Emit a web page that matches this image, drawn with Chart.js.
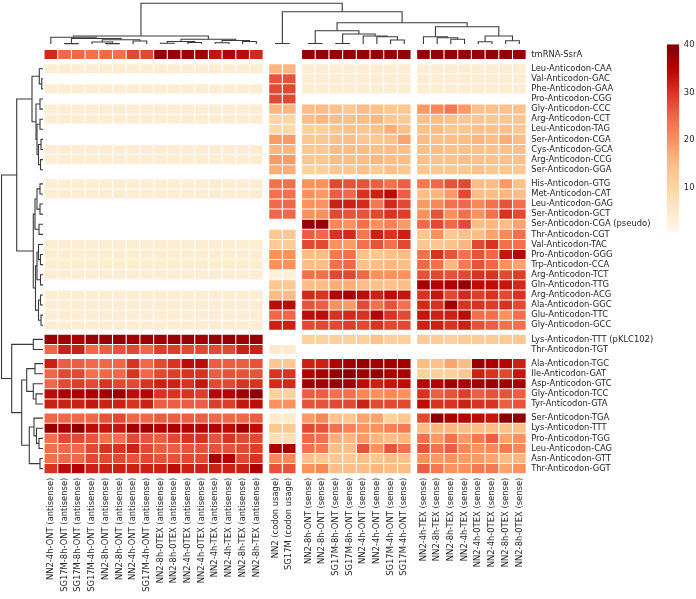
<!DOCTYPE html>
<html>
<head>
<meta charset="utf-8">
<script src="https://cdn.jsdelivr.net/npm/chart.js@4.4.1/dist/chart.umd.min.js"></script>
<style>
  body { margin: 0; background: #fff; }
  #wrap { position: relative; width: 696px; height: 599px; }
  #wrap canvas { position: absolute; left: 0; top: 0; }
</style>
</head>
<body>
<div id="wrap">
  <canvas id="heat" width="696" height="599"></canvas>
  <canvas id="row-tree" width="696" height="599"></canvas>
  <canvas id="col-tree" width="696" height="599"></canvas>
  <canvas id="cbar" width="696" height="599"></canvas>
</div>
<script>
const COLS = [
  "NN2-4h-ONT (antisense)", "SG17M-8h-ONT (antisense)", "SG17M-8h-ONT (antisense)", "SG17M-4h-ONT (antisense)",
  "NN2-8h-ONT (antisense)", "NN2-8h-ONT (antisense)", "NN2-4h-ONT (antisense)", "SG17M-4h-ONT (antisense)",
  "NN2-8h-0TEX (antisense)", "NN2-8h-0TEX (antisense)", "NN2-4h-0TEX (antisense)", "NN2-4h-0TEX (antisense)",
  "NN2-4h-TEX (antisense)", "NN2-4h-TEX (antisense)", "NN2-8h-TEX (antisense)", "NN2-8h-TEX (antisense)",
  "NN2 (codon usage)", "SG17M (codon usage)",
  "NN2-8h-ONT (sense)", "NN2-8h-ONT (sense)", "SG17M-8h-ONT (sense)", "SG17M-8h-ONT (sense)",
  "NN2-4h-ONT (sense)", "NN2-4h-ONT (sense)", "SG17M-4h-ONT (sense)", "SG17M-4h-ONT (sense)",
  "NN2-4h-TEX (sense)", "NN2-8h-TEX (sense)", "NN2-8h-TEX (sense)", "NN2-4h-TEX (sense)",
  "NN2-4h-0TEX (sense)", "NN2-4h-0TEX (sense)", "NN2-8h-0TEX (sense)", "NN2-8h-0TEX (sense)"
];
const COL_GROUPS = [16, 2, 8, 8];

const ROWS = [
  "tmRNA-SsrA",
  "Leu-Anticodon-CAA", "Val-Anticodon-GAC", "Phe-Anticodon-GAA", "Pro-Anticodon-CGG", "Gly-Anticodon-CCC",
  "Arg-Anticodon-CCT", "Leu-Anticodon-TAG", "Ser-Anticodon-CGA", "Cys-Anticodon-GCA", "Arg-Anticodon-CCG",
  "Ser-Anticodon-GGA",
  "His-Anticodon-GTG", "Met-Anticodon-CAT", "Leu-Anticodon-GAG", "Ser-Anticodon-GCT",
  "Ser-Anticodon-CGA (pseudo)", "Thr-Anticodon-CGT", "Val-Anticodon-TAC", "Pro-Anticodon-GGG",
  "Trp-Anticodon-CCA", "Arg-Anticodon-TCT", "Gln-Anticodon-TTG", "Arg-Anticodon-ACG", "Ala-Anticodon-GGC",
  "Glu-Anticodon-TTC", "Gly-Anticodon-GCC",
  "Lys-Anticodon-TTT (pKLC102)", "Thr-Anticodon-TGT",
  "Ala-Anticodon-TGC", "Ile-Anticodon-GAT", "Asp-Anticodon-GTC", "Gly-Anticodon-TCC", "Tyr-Anticodon-GTA",
  "Ser-Anticodon-TGA", "Lys-Anticodon-TTT", "Pro-Anticodon-TGG", "Leu-Anticodon-CAG", "Asn-Anticodon-GTT",
  "Thr-Anticodon-GGT"
];
const ROW_GROUPS = [1, 11, 15, 2, 5, 6];

const _ = null;
// one row per tRNA: 16 antisense | 2 codon usage | 8 ONT sense | 8 TEX sense
const VALUES = [
  [31,25,25,24,25,24,28,28,38,38,37,37,33,35,34,31, _,_, 38,38,38,38,38,38,38,38, 38,38,38,38,38,38,38,38],
  [4,4,4,4,4,4,4,4,4,4,4,4,4,4,4,4, 16,16, 4,4,4,4,4,4,4,4, 4,4,4,4,4,4,4,4],
  [_,_,_,_,_,_,_,_,_,_,_,_,_,_,_,_, 27,27, 4,4,4,4,4,4,4,4, 4,4,4,4,4,4,4,4],
  [4,4,4,4,4,4,4,4,4,4,4,4,4,4,4,4, 28,28, 4,4,4,4,4,4,4,4, 4,4,4,4,4,4,4,4],
  [_,_,_,_,_,_,_,_,_,_,_,_,_,_,_,_, 28,28, _,_,_,_,_,_,_,_, _,_,_,_,_,_,_,_],
  [4,4,4,4,4,4,4,4,4,4,4,4,4,4,4,4, 16,16, 15,15,14,13,15,14,13,13, 19,21,23,19,14,14,14,14],
  [4,4,4,4,4,4,4,4,4,4,4,4,4,4,4,4, 10,10, 15,16,15,15,15,16,13,12, 14,15,14,13,13,13,13,13],
  [_,_,_,_,_,_,_,_,_,_,_,_,_,_,_,_, 9,9, 11,11,13,14,13,14,17,14, 14,15,13,13,14,14,14,13],
  [_,_,_,_,_,_,_,_,_,_,_,_,_,_,_,_, 19,19, 13,13,14,15,13,13,14,18, 15,14,15,15,16,15,17,15],
  [4,4,4,4,4,4,4,4,4,4,4,4,4,4,4,4, 16,16, 13,13,15,15,15,14,15,14, 14,15,14,14,14,14,14,14],
  [4,4,4,4,4,4,4,4,4,4,4,4,4,4,4,4, 19,19, 13,13,15,15,15,16,15,15, 14,14,14,15,14,14,14,14],
  [_,_,_,_,_,_,_,_,_,_,_,_,_,_,_,_, 17,17, 11,11,13,13,14,12,14,13, 13,13,13,13,14,13,13,13],
  [4,4,4,4,4,4,4,4,4,4,4,4,4,4,4,4, 24,24, 20,20,28,27,27,26,24,26, 23,25,27,28,15,15,19,14],
  [4,4,4,4,4,4,4,4,4,4,4,4,4,4,4,4, 24,24, 20,19,26,25,30,32,34,26, 15,16,19,28,15,15,16,15],
  [_,_,_,_,_,_,_,_,_,_,_,_,_,_,_,_, 25,25, 20,20,32,32,31,23,31,28, 19,21,24,25,21,24,27,24],
  [_,_,_,_,_,_,_,_,_,_,_,_,_,_,_,_, 25,25, 20,20,28,27,27,28,30,29, 20,27,20,24,20,24,30,28],
  [_,_,_,_,_,_,_,_,_,_,_,_,_,_,_,_, _,_, 38,38,21,20,24,20,22,19, 25,28,25,28,15,16,15,18],
  [_,_,_,_,_,_,_,_,_,_,_,_,_,_,_,_, 13,13, 26,25,30,31,23,32,30,32, 13,20,13,14,15,18,21,24],
  [4,4,4,4,4,4,4,4,4,4,4,4,4,4,4,4, 12,12, 28,28,20,19,24,27,24,28, 13,13,14,16,28,30,24,24],
  [4,4,4,4,4,4,4,4,4,4,4,4,4,4,4,4, 20,20, 15,15,23,24,14,13,14,15, 24,30,27,24,27,25,33,35],
  [4,4,4,4,4,4,4,4,4,4,4,4,4,4,4,4, 20,20, 15,15,24,25,14,15,16,15, 25,24,16,23,27,25,20,18],
  [4,4,4,4,4,4,4,4,4,4,4,4,4,4,4,4, 3,3, 24,24,28,28,25,20,20,20, 27,28,27,28,30,30,28,29],
  [_,_,_,_,_,_,_,_,_,_,_,_,_,_,_,_, 13,13, 15,15,17,17,15,14,14,15, 37,35,36,38,34,34,33,31],
  [4,4,4,4,4,4,4,4,4,4,4,4,4,4,4,4, 15,15, 31,30,35,36,34,32,34,33, 30,33,28,31,29,30,28,30],
  [4,4,4,4,4,4,4,4,4,4,4,4,4,4,4,4, 34,34, 27,26,20,19,28,24,27,24, 31,30,37,30,30,29,30,28],
  [4,4,4,4,4,4,4,4,4,4,4,4,4,4,4,4, 25,25, 34,34,30,31,30,35,30,28, 33,32,32,34,24,24,20,24],
  [4,4,4,4,4,4,4,4,4,4,4,4,4,4,4,4, 32,32, 28,28,28,29,28,30,28,28, 32,32,30,32,27,26,24,24],
  [38,37,36,38,38,38,37,38,37,38,38,37,38,38,37,38, _,_, 11,11,11,11,11,14,11,11, 12,12,11,12,12,12,12,13],
  [25,32,32,25,26,27,28,25,29,29,28,28,28,28,32,32, 5,5, _,_,_,_,_,_,_,_, _,_,_,_,_,_,_,_],
  [32,26,26,25,25,25,30,25,28,30,34,34,26,26,26,27, 13,13, 32,32,35,37,38,37,37,37, 15,14,18,15,38,36,35,32],
  [25,28,28,24,25,25,30,25,28,29,30,30,26,27,27,27, 30,30, 35,36,38,39,37,38,36,36, 11,11,11,13,32,30,28,33],
  [25,28,29,28,30,28,28,30,32,32,30,33,28,28,30,30, 31,31, 37,37,38,37,34,32,33,34, 35,35,37,36,37,38,37,37],
  [34,36,36,36,37,38,34,35,30,30,30,29,35,35,37,39, 11,11, 26,26,24,24,21,20,21,20, 30,26,27,29,26,27,27,26],
  [32,32,32,33,32,32,30,32,26,26,26,26,29,29,33,34, 20,20, 27,27,28,28,32,28,28,28, 34,30,30,32,30,30,26,27],
  [25,25,25,25,27,28,25,25,26,26,26,26,25,25,25,26, 5,5, 19,21,14,13,18,18,11,13, 28,39,36,35,34,33,39,39],
  [38,36,39,34,33,33,37,37,35,36,35,35,35,34,37,34, 13,13, 28,27,24,22,20,20,22,23, 15,16,16,15,15,15,14,14],
  [24,28,28,27,24,24,28,27,26,28,30,30,27,30,28,28, 8,8, 25,24,17,16,19,16,15,16, 24,19,24,19,23,26,18,20],
  [24,25,25,28,30,30,32,28,26,26,27,27,27,27,28,29, 36,36, 24,23,15,15,27,20,27,24, 27,24,26,21,20,21,23,21],
  [24,25,25,28,28,28,27,28,27,27,28,28,37,35,28,30, 21,21, 14,13,13,13,14,13,15,14, 20,19,20,19,19,18,15,16],
  [30,34,35,32,32,32,32,32,32,34,32,32,32,32,32,36, 27,27, 20,21,15,15,15,16,15,15, 26,23,20,20,23,23,18,20]
];

// dendrograms: [left, right, height]; numbers are leaf indices
const ROW_TREE = [
  [
    [[1, [2, 3, 1.3], 3.7],
     [[4, 5, 3], [[6, 7, 3], [[8, 9, 2], [10, 11, 2.5], 4.5], 6], 7], 11],
    [[[[12, 13, 3], [14, 15, 3], 6], [16, 17, 4], 8],
     [[[18, [19, 20, 2.5], 4.5], [21, 22, 2.5], 6], [[23, 24, 2.5], [25, 26, 2], 4.5], 7.5], 9.7],
    26.3
  ],
  [
    [27, 28, 9.7],
    [[[29, 30, 8], [31, [32, 33, 7], 9.7], 16.3],
     [[34, [35, [36, 37, 4], 6.5], 9], [38, 39, 3], 13.7], 21.3],
    31.3
  ],
  41.5
];
const COL_TREE = [
  [
    [0, [[1, 2, 0.4], [[3, [4, 5, 0.4], 2], [6, 7, 3], 4.3], 5.5], 6.7],
    [[[8, 9, 0.8], [10, 11, 1.5], 2.5], [[12, 13, 1.3], [14, 15, 2.5], 3.5], 4.7],
    8
  ],
  [
    [16, 17, 0.5],
    [
      [[18, 19, 0.5], [[20, 21, 0.5], [22, [23, [24, 25, 4], 7.3], 8], 10], 13.3],
      [[26, [27, [28, 29, 4.7], 6.3], 7.3], [[30, 31, 2.3], [32, 33, 3.3], 8], 17.3],
      21.3
    ],
    32.3
  ],
  40.7
];

const VMIN = 0.6;
const VMAX = 40.2;
const CBAR_TICKS = [10, 20, 30, 40];
const ORRD = ["#fff7ec", "#fee8c8", "#fdd49e", "#fdbb84", "#fc8d59", "#ef6548", "#d7301f", "#b30000", "#7f0000"];

const GAP = 0.4;
const W = 696, H = 599;
const $ = (id) => document.getElementById(id);

Chart.defaults.font.family = "'DejaVu Sans', sans-serif";
Chart.defaults.font.size = 8.4;
Chart.defaults.color = "#262626";
Chart.defaults.animation = false;
Chart.defaults.plugins.legend.display = false;
Chart.defaults.plugins.tooltip.enabled = false;

function groupIndex(sizes) {
  const out = [];
  sizes.forEach((n, g) => { for (let i = 0; i < n; i++) out.push(g); });
  return out;
}
const colGroup = groupIndex(COL_GROUPS);
const rowGroup = groupIndex(ROW_GROUPS);
const colPos = (j) => j + GAP * colGroup[j] + 0.5;
const rowPos = (i) => i + GAP * rowGroup[i] + 0.5;
const X_MAX = COLS.length + GAP * (COL_GROUPS.length - 1);
const Y_MAX = ROWS.length + GAP * (ROW_GROUPS.length - 1);

function rgb(hex) {
  return [1, 3, 5].map(i => parseInt(hex.slice(i, i + 2), 16));
}
function colorAt(t) {
  t = Math.max(0, Math.min(1, t));
  const s = t * (ORRD.length - 1);
  const i = Math.min(Math.floor(s), ORRD.length - 2);
  const f = s - i;
  const a = rgb(ORRD[i]), b = rgb(ORRD[i + 1]);
  return `rgb(${a.map((x, k) => Math.round(x + (b[k] - x) * f)).join(",")})`;
}
const colorFor = (v) => colorAt((v - VMIN) / (VMAX - VMIN));

// walk a tree and collect the U-shaped links
function treeLinks(node, leafPos, links) {
  if (typeof node === "number") return { p: leafPos(node), h: 0 };
  const a = treeLinks(node[0], leafPos, links);
  const b = treeLinks(node[1], leafPos, links);
  const h = node[2];
  links.push([[a.p, a.h], [a.p, h], [b.p, h], [b.p, b.h]]);
  return { p: (a.p + b.p) / 2, h };
}

const noGrid = { display: false, drawTicks: false };

const heat = new Chart($("heat"), {
  type: "bar",
  data: {
    datasets: COLS.map((name, j) => ({
      label: name,
      data: VALUES
        .map((row, i) => row[j] === null ? null : { y: rowPos(i), x: [colPos(j) - 0.46, colPos(j) + 0.46], v: row[j] })
        .filter(Boolean),
      backgroundColor: (ctx) => ctx.raw ? colorFor(ctx.raw.v) : "#fff"
    }))
  },
  options: {
    responsive: false,
    indexAxis: "y",
    layout: { padding: { left: 44, top: 49.5, right: 0, bottom: 0 } },
    datasets: { bar: { grouped: false, barPercentage: 0.9, categoryPercentage: 1, inflateAmount: 0 } },
    scales: {
      x: {
        type: "linear", position: "bottom", min: 0, max: X_MAX, offset: false,
        grid: noGrid, border: { display: false },
        afterBuildTicks: (s) => { s.ticks = COLS.map((_, j) => ({ value: colPos(j) })); },
        ticks: { autoSkip: false, minRotation: 90, maxRotation: 90, padding: 4, callback: (v, i) => COLS[i] },
        afterFit: (s) => { s.height = 125.3; }
      },
      y: {
        type: "linear", position: "right", reverse: true, min: 0, max: Y_MAX, offset: false,
        grid: noGrid, border: { display: false },
        afterBuildTicks: (s) => { s.ticks = ROWS.map((_, i) => ({ value: rowPos(i) })); },
        ticks: { autoSkip: false, padding: 5, callback: (v, i) => ROWS[i] },
        afterFit: (s) => { s.width = 169.8; }
      }
    }
  }
});

const area = heat.chartArea;

function treeChart(id, links, padding, scales, swap) {
  return new Chart($(id), {
    type: "scatter",
    data: {
      datasets: links.map(pts => ({
        data: pts.map(([p, h]) => swap ? { x: h, y: p } : { x: p, y: h }),
        showLine: true, borderColor: "#3a3a3a", borderWidth: 1.1,
        pointRadius: 0, clip: false
      }))
    },
    options: { responsive: false, layout: { padding }, scales }
  });
}

const rowLinks = [];
treeLinks(ROW_TREE, (i) => rowPos(i), rowLinks);
treeChart("row-tree", rowLinks,
  { left: 0, top: area.top, right: W - 43, bottom: H - area.bottom },
  {
    x: { type: "linear", display: false, reverse: true, min: 0, max: 43 },
    y: { type: "linear", display: false, reverse: true, min: 0, max: Y_MAX }
  }, true);

const colLinks = [];
treeLinks(COL_TREE, (j) => colPos(j), colLinks);
treeChart("col-tree", colLinks,
  { left: area.left, top: 0, right: W - area.right, bottom: H - 44 },
  {
    x: { type: "linear", display: false, min: 0, max: X_MAX },
    y: { type: "linear", display: false, min: 0, max: 44 }
  }, false);

new Chart($("cbar"), {
  type: "bar",
  data: {
    labels: [""],
    datasets: [{
      data: [[VMIN, VMAX]],
      barPercentage: 1, categoryPercentage: 1, inflateAmount: 0,
      backgroundColor: (ctx) => {
        const ca = ctx.chart.chartArea;
        if (!ca) return ORRD[4];
        const g = ctx.chart.ctx.createLinearGradient(0, ca.bottom, 0, ca.top);
        for (let k = 0; k <= 20; k++) g.addColorStop(k / 20, colorAt(k / 20));
        return g;
      }
    }]
  },
  options: {
    responsive: false,
    layout: { padding: { left: 666.7, top: 44.3, right: 0, bottom: H - 232.3 } },
    scales: {
      x: { display: false },
      y: {
        type: "linear", position: "right", min: VMIN, max: VMAX,
        grid: noGrid, border: { display: false },
        afterBuildTicks: (s) => { s.ticks = CBAR_TICKS.map(v => ({ value: v })); },
        ticks: { padding: 4.5 },
        afterFit: (s) => { s.width = W - 679.3; }
      }
    }
  }
});
</script>
</body>
</html>
